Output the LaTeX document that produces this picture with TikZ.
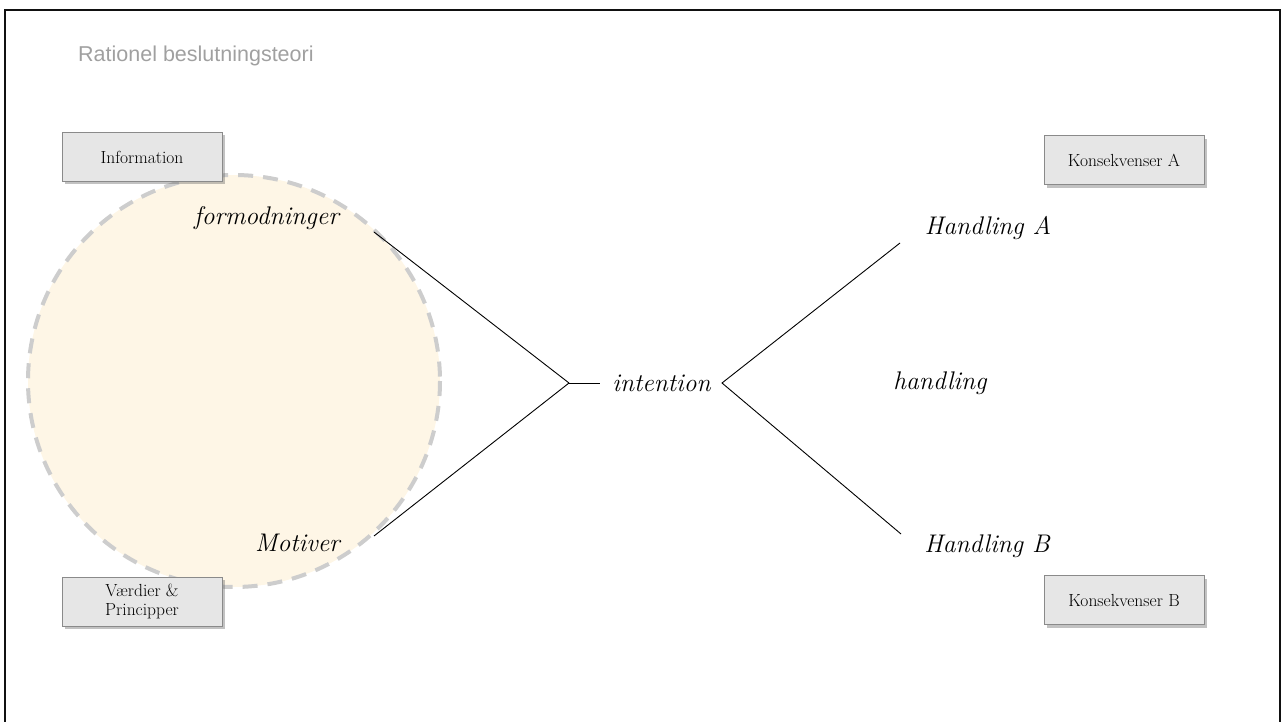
\documentclass[tikz,border=0pt]{standalone}
\usepackage{fontspec}
\newfontfamily\titlefont{Liberation Sans}
\usetikzlibrary{shadows}
\definecolor{framecol}{HTML}{111111}
\definecolor{titlegray}{HTML}{A0A0A0}
\definecolor{cream}{HTML}{FEF6E6}
\definecolor{ringgray}{HTML}{CDCDCD}
\definecolor{boxfill}{HTML}{E6E6E6}
\definecolor{boxline}{HTML}{8A8A8A}
\tikzset{
  infobox/.style={draw=boxline, line width=1pt, fill=boxfill, minimum width=160pt,
    minimum height=49pt, inner sep=2pt, align=center, font=\fontsize{17.5}{19.5}\selectfont,
    drop shadow={shadow xshift=2.5pt, shadow yshift=-3pt, opacity=0.4, fill=black!60}},
  term/.style={font=\fontsize{25.5}{28}\selectfont\itshape, inner sep=0pt},
  link/.style={line width=0.9pt, black}
}
\begin{document}
\begin{tikzpicture}[x=1pt,y=-1pt]
\useasboundingbox (0,0) rectangle (1284,722);
% open slide frame
\draw[framecol, line width=2.6pt] (5,723) -- (5,10) -- (1280,10) -- (1280,723);
% heading
\node[anchor=west, text=titlegray, font=\titlefont\fontsize{21.5}{24}\selectfont, inner sep=0pt]
  (title) at (78,56) {Rationel beslutningsteori};
% belief/desire disc
\draw[fill=cream, draw=ringgray, line width=4pt, dash pattern=on 15pt off 10pt] (234,381) circle (206);
% source boxes
\node[infobox] (info) at (142,157) {Information};
\node[infobox] (vaerdi) at (142,601.5) {Værdier \&\\Principper};
\node[infobox] (konsA) at (1124,160.5) {Konsekvenser A};
\node[infobox] (konsB) at (1124,600) {Konsekvenser B};
% terms
\node[term] (formod) at (266.5,218) {formodninger};
\node[term] (motiv) at (297.5,543) {Motiver};
\node[term] (intent) at (661.5,383) {intention};
\node[term] (handl) at (940,383) {handling};
\node[term] (handlA) at (988,228) {Handling A};
\node[term] (handlB) at (987,546) {Handling B};
% line end points
\coordinate (fEnd) at (374,232);
\coordinate (mEnd) at (374,536);
\coordinate (join) at (569,383);
\coordinate (iIn) at (600,383);
\coordinate (iOut) at (722,383);
\coordinate (aEnd) at (900,243);
\coordinate (bEnd) at (901,534);
\draw[link] (fEnd) -- (join);
\draw[link] (mEnd) -- (join);
\draw[link] (join) -- (iIn);
\draw[link] (aEnd) -- (iOut) -- (bEnd);
\end{tikzpicture}
\end{document}
